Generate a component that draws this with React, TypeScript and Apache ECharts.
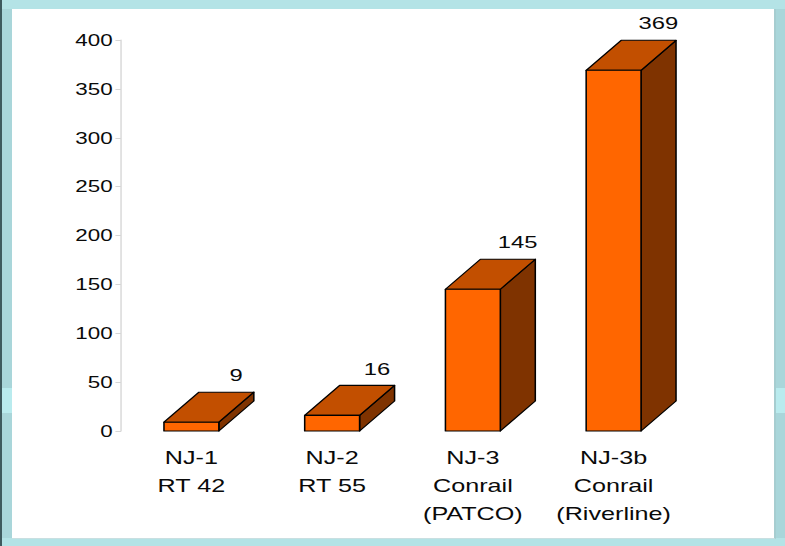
import React, { useEffect, useRef } from "react";
import * as echarts from "echarts";

const categories = ["NJ-1\nRT 42", "NJ-2\nRT 55", "NJ-3\nConrail\n(PATCO)", "NJ-3b\nConrail\n(Riverline)"];
const values = [9, 16, 145, 369];
const yMin = 0;
const yMax = 400;
const yStep = 50;

const PAGE_W = 785;
const PAGE_H = 546;
const INNER_W = 561;
const STRETCH = PAGE_W / INNER_W;

export default function App() {
  const ref = useRef<HTMLDivElement>(null);

  useEffect(() => {
    if (!ref.current) return;
    const chart = echarts.init(ref.current, undefined, { renderer: "svg" });
    const depthX = 25;
    const depthY = 30;
    chart.setOption({
      animation: false,
      backgroundColor: "transparent",
      grid: { left: 86.5, right: 72.2, top: 40, bottom: 115 },
      xAxis: {
        type: "category",
        data: categories,
        axisLine: { show: false },
        axisTick: { show: false },
        axisLabel: {
          interval: 0,
          hideOverlap: false,
          margin: 13,
          fontSize: 18,
          lineHeight: 28,
          color: "#0a0a0a",
          fontFamily: "Liberation Sans, Arial, sans-serif",
          align: "center",
        },
      },
      yAxis: {
        type: "value",
        min: yMin,
        max: yMax,
        interval: yStep,
        axisLine: { show: true, lineStyle: { color: "#d6d6d6", width: 1 } },
        axisTick: { show: true, length: 4, lineStyle: { color: "#d6d6d6" } },
        splitLine: { show: false },
        axisLabel: {
          margin: 6,
          fontSize: 16,
          color: "#0a0a0a",
          fontFamily: "Liberation Sans, Arial, sans-serif",
        },
      },
      series: [
        {
          type: "custom",
          data: values.map((v, i) => [i, v]),
          encode: { x: 0, y: 1 },
          renderItem: (params: any, api: any) => {
            const idx = api.value(0);
            const v = api.value(1);
            const top = api.coord([idx, v]);
            const base = api.coord([idx, 0]);
            const band = api.size([1, 0])[0];
            const w = band * 0.39;
            const x0 = top[0] - w / 2;
            const x1 = top[0] + w / 2;
            const yT = top[1];
            const yB = base[1];
            const stroke = { stroke: "#000", lineWidth: 1.1, lineJoin: "round" };
            return {
              type: "group",
              children: [
                {
                  type: "polygon",
                  shape: { points: [[x1, yB], [x1, yT], [x1 + depthX, yT - depthY], [x1 + depthX, yB - depthY]] },
                  style: { fill: "#7F3300", ...stroke },
                },
                {
                  type: "polygon",
                  shape: { points: [[x0, yT], [x1, yT], [x1 + depthX, yT - depthY], [x0 + depthX, yT - depthY]] },
                  style: { fill: "#C24F00", ...stroke },
                },
                {
                  type: "polygon",
                  shape: { points: [[x0, yB], [x1, yB], [x1, yT], [x0, yT]] },
                  style: { fill: "#FF6600", ...stroke },
                },
                {
                  type: "text",
                  style: {
                    text: String(v),
                    x: x0 + depthX + w / 2 + 7,
                    y: yT - depthY - 17,
                    align: "center",
                    verticalAlign: "middle",
                    fontSize: 17,
                    fontFamily: "Liberation Sans, Arial, sans-serif",
                    fill: "#0a0a0a",
                  },
                },
              ],
            };
          },
        },
      ],
    });
    return () => chart.dispose();
  }, []);

  return (
    <div
      style={{
        position: "fixed",
        left: 0,
        top: 0,
        width: PAGE_W,
        height: PAGE_H,
        background: "#b4e3e6",
        overflow: "hidden",
      }}
    >
      <div style={{ position: "absolute", left: 0, top: 0, width: 2, height: PAGE_H, background: "#3e5a5e" }} />
      <div style={{ position: "absolute", left: 2, top: 9, width: 10, height: 529, background: "#a9d6da" }} />
      <div style={{ position: "absolute", left: 2, top: 388, width: 10, height: 25, background: "#b9ebee" }} />
      <div style={{ position: "absolute", left: 776, top: 9, width: 9, height: 529, background: "#a9d6da" }} />
      <div style={{ position: "absolute", left: 776, top: 388, width: 9, height: 25, background: "#b9ebee" }} />
      <div
        style={{
          position: "absolute",
          left: 12,
          top: 9,
          width: 762,
          height: 529,
          background: "#ffffff",
          borderRight: "2px solid #a6cdd0",
          borderBottom: "1px solid #c9dfe1",
        }}
      />
      <div
        ref={ref}
        style={{
          position: "absolute",
          left: 0,
          top: 0,
          width: INNER_W,
          height: PAGE_H,
          transform: `scaleX(${STRETCH})`,
          transformOrigin: "0 0",
        }}
      />
    </div>
  );
}
